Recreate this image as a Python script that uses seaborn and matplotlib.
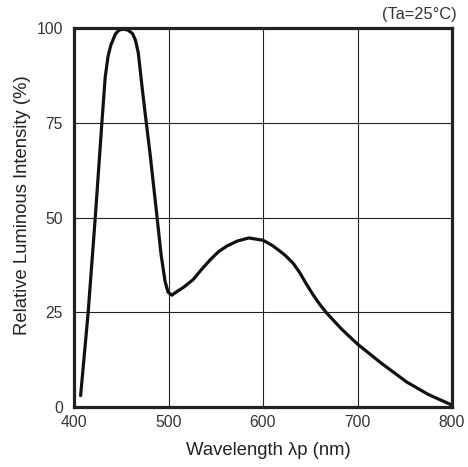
import matplotlib
matplotlib.use("Agg")
import matplotlib.pyplot as plt
import seaborn as sns
import pandas as pd

wavelength = [407, 415, 422.5, 429.5, 433, 436, 439, 444, 448, 453, 457.5, 462, 465, 468, 472, 476,
              480.4, 487.5, 492, 496.3, 499.5, 503.5, 508, 516, 526, 535, 544, 553, 562, 573, 585,
              600, 610, 617, 624, 632, 639, 646, 653, 660, 667, 683, 700, 725, 752, 775, 800]
intensity = [3, 25, 50, 75, 87, 92.5, 95.5, 98.5, 99.5, 99.7, 99.4, 98.5, 96.8, 93.5, 84.5, 76,
             67, 51, 40.5, 33.2, 30.3, 29.5, 30.3, 31.6, 33.6, 36.3, 38.8, 41, 42.5, 43.8, 44.6,
             44, 42.6, 41.3, 39.9, 37.9, 35.4, 32.4, 29.6, 27.1, 24.9, 20.6, 16.6, 11.6, 6.6, 3.3, 0.5]
x_ticks = [400, 500, 600, 700, 800]
y_ticks = [0, 25, 50, 75, 100]

df = pd.DataFrame({"wl": wavelength, "val": intensity})

sns.set_style("white")
plt.rcParams['font.family'] = ['Liberation Sans', 'DejaVu Sans']

fig = plt.figure(figsize=(4.68, 4.67), dpi=100)
ax = fig.add_axes([74/468, 1-407/467, 378/468, 379/467])

sns.lineplot(data=df, x="wl", y="val", ax=ax, color="#111111", linewidth=2.3,
             estimator=None, sort=False)
ax.lines[0].set_solid_joinstyle("round")
ax.lines[0].set_solid_capstyle("round")

ax.set_xlim(400, 800)
ax.set_ylim(0, 100)
ax.set_xticks(x_ticks)
ax.set_yticks(y_ticks)
ax.set_xticklabels([str(t) for t in x_ticks])
ax.set_yticklabels([str(t) for t in y_ticks])
ax.grid(True, color="#222222", linewidth=0.8)
ax.set_axisbelow(True)
for s in ax.spines.values():
    s.set_color("#222222")
    s.set_linewidth(2.3)
ax.tick_params(axis="both", length=0, labelsize=11.3, colors="#333333")
ax.tick_params(axis="y", pad=8)
ax.tick_params(axis="x", pad=6)
ax.set_xlabel("Wavelength λp (nm)", fontsize=13.3, color="#222222")
ax.set_ylabel("Relative Luminous Intensity (%)", fontsize=13.3, color="#222222", va="center")
ax.xaxis.set_label_coords(0.513, -0.116)
ax.yaxis.set_label_coords(-0.135, 0.533)
ax.xaxis.label.set_va("center")
fig.text(457/468, 1-15/467, "(Ta=25°C)", ha="right", va="center", fontsize=11.8, color="#333333")

fig.savefig("out.png", dpi=100, facecolor="white")
